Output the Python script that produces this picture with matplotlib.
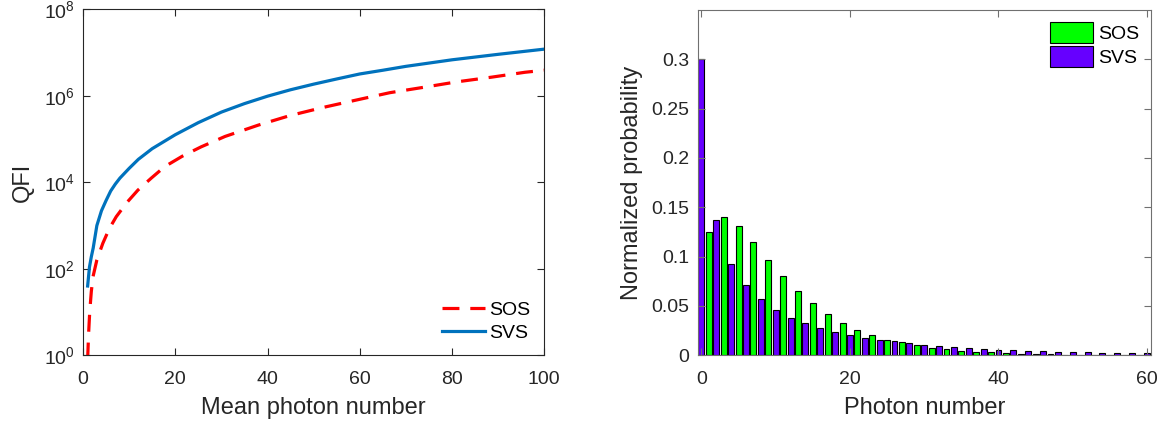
#!/usr/bin/env python3
'''QFI vs mean photon number, and photon number distributions'''

import matplotlib
matplotlib.use('Agg')
import matplotlib.pyplot as plt
from matplotlib.ticker import FormatStrFormatter, NullLocator
import numpy as np

plt.rcParams['font.family'] = ['Liberation Sans', 'DejaVu Sans']
plt.rcParams['mathtext.fontset'] = 'custom'
plt.rcParams['mathtext.rm'] = 'Liberation Sans'
plt.rcParams['mathtext.it'] = 'Liberation Sans:italic'

# left panel, values
n_svs_line = [1, 1.4, 1.8, 2.2, 3, 4, 5, 6, 7, 8, 10, 12, 15, 20, 25, 30, 35,
              40, 45, 50, 55, 60, 65, 70, 80, 90, 100]
qfi_svs = [40, 110, 190, 300, 1.0e3, 2.2e3, 3.8e3, 6.3e3, 9.1e3, 1.25e4,
           2.1e4, 3.4e4, 6.0e4, 1.26e5, 2.4e5, 4.2e5, 6.6e5, 9.8e5, 1.38e6,
           1.86e6, 2.45e6, 3.2e6, 3.9e6, 4.8e6, 6.8e6, 9.1e6, 1.2e7]

n_sos_line = [1, 1.2, 1.45, 1.8, 2.17, 3, 4.3, 5.7, 7.2, 9.5, 11.9, 14.8, 17.7,
              21.5, 25.6, 30.8, 38.0, 44.9, 52.1, 59.3, 66.5, 73.8, 81.0,
              88.6, 95.8, 100]
qfi_sos = [0.8, 3.0, 10, 30, 66, 160, 390, 850, 1.6e3, 3.4e3, 6.6e3, 1.25e4,
           2.3e4, 4.0e4, 6.6e4, 1.15e5, 2.1e5, 3.5e5, 5.4e5, 8.0e5, 1.18e6,
           1.57e6, 2.1e6, 2.7e6, 3.5e6, 3.9e6]

# right panel, photon number distributions
n_sos = list(range(1, 60, 2))
p_sos = [0.125, 0.140, 0.131, 0.115, 0.097, 0.080, 0.065, 0.0525, 0.042, 0.033,
         0.026, 0.0205, 0.016, 0.013, 0.0104, 0.0077, 0.0061, 0.0047, 0.0037,
         0.0030, 0.0022, 0.0017, 0.0013, 0.0010, 0.0008, 0.0006, 0.0005,
         0.0004, 0.0003, 0.0002]
n_svs = list(range(0, 61, 2))
p_svs = [0.300, 0.137, 0.093, 0.071, 0.057, 0.046, 0.038, 0.033, 0.028, 0.024,
         0.0205, 0.018, 0.016, 0.014, 0.0124, 0.0105, 0.0090, 0.0080, 0.0071,
         0.0064, 0.0057, 0.0050, 0.0045, 0.0040, 0.0036, 0.0032, 0.0029,
         0.0026, 0.0023, 0.0021, 0.0019]

TXT = '#262626'


def style_axes(ax, spine_col):
    for s in ax.spines.values():
        s.set_color(spine_col)
        s.set_linewidth(0.8)
    ax.tick_params(direction='in', top=True, right=True, length=5, width=0.8,
                   color=spine_col, labelsize=14, labelcolor=TXT)
    ax.tick_params(axis='x', pad=11)
    ax.tick_params(axis='y', pad=6)


fig = plt.figure(figsize=(11.66, 4.29), dpi=100)

ax1 = fig.add_axes([0.0712, 0.1718, 0.3956, 0.8065])
ax1.plot(n_sos_line, qfi_sos, color='#ff0000', lw=2.3, dashes=(5.3, 3.4), label='SOS')
ax1.plot(n_svs_line, qfi_svs, color='#0072bd', lw=2.3, label='SVS')
ax1.set_yscale('log')
ax1.set_xlim(0, 100)
ax1.set_ylim(1, 1e8)
ax1.set_yticks([1, 1e2, 1e4, 1e6, 1e8])
ax1.yaxis.set_minor_locator(NullLocator())
ax1.set_xticks([0, 20, 40, 60, 80, 100])
style_axes(ax1, TXT)
ax1.set_xlabel('Mean photon number', fontsize=17, color=TXT, labelpad=7)
ax1.set_ylabel('QFI', fontsize=17, color=TXT, labelpad=7)
ax1.legend(loc='lower right', frameon=False, fontsize=14, handlelength=2.2,
           handletextpad=0.25, labelspacing=0.25, borderaxespad=0.3)

ax2 = fig.add_axes([0.5984, 0.1718, 0.3885, 0.805])
ax2.bar(n_sos, p_sos, width=0.8, color='#00ff00', edgecolor='black', lw=0.8, label='SOS')
ax2.bar(n_svs, p_svs, width=0.8, color='#6600ff', edgecolor='black', lw=0.8, label='SVS')
ax2.set_xlim(-0.5, 60.5)
ax2.set_ylim(0, 0.35)
ax2.set_xticks([0, 20, 40, 60])
ax2.set_yticks(np.arange(0, 0.31, 0.05))
ax2.yaxis.set_major_formatter(FormatStrFormatter('%g'))
style_axes(ax2, '#707070')
ax2.set_xlabel('Photon number', fontsize=17, color=TXT, labelpad=7)
ax2.set_ylabel('Normalized probability', fontsize=17, color=TXT, labelpad=6)
ax2.legend(loc='upper right', frameon=False, fontsize=14, handlelength=2.2,
           handleheight=1.3, handletextpad=0.25, labelspacing=0.15,
           borderaxespad=0.2)

fig.savefig('out.png', dpi=100)
